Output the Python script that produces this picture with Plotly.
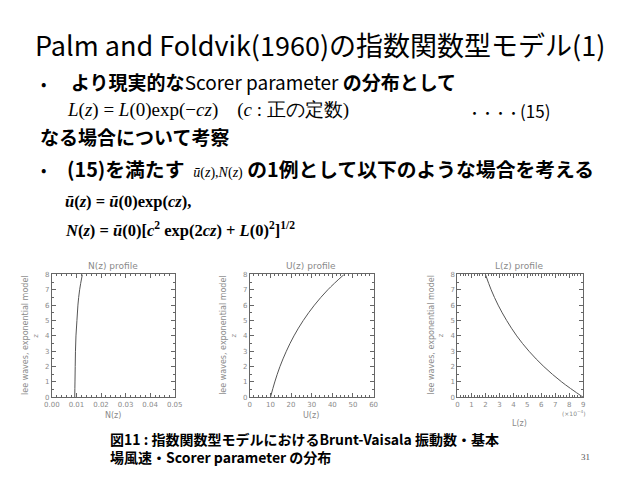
import plotly.graph_objects as go

# ---- data ----
z_levels = [0, 1, 2, 3, 4, 5, 6, 7, 8]
n_values = [0.0093, 0.0094, 0.0095, 0.0096, 0.0098, 0.0102, 0.0106, 0.0113, 0.0124]
u_values = [10.0, 12.1, 14.6, 17.7, 21.4, 25.9, 31.3, 37.8, 45.7]
l_values = [9.0, 7.46, 6.18, 5.12, 4.24, 3.52, 2.91, 2.41, 2.0]   # x 1e-4

plot_titles = ["N(z) profile", "U(z) profile", "L(z) profile"]
x_titles = ["N(z)", "U(z)", "L(z)"]
y_title = "lee waves, exponential model"

JP = "Noto Sans CJK JP"
SERIF = "Liberation Serif"
AX_COL = "#666666"
TICK_COL = "#8a8a8a"

fig = go.Figure()
series = [n_values, u_values, l_values]
for i, xs in enumerate(series):
    fig.add_trace(go.Scatter(
        x=xs, y=z_levels, mode="lines", line=dict(color="#555555", width=1, shape="spline"),
        xaxis="x" if i == 0 else f"x{i+1}", yaxis="y" if i == 0 else f"y{i+1}",
        showlegend=False, hoverinfo="skip"))

doms_x = [[45/640, 171/640], [248/640, 375/640], [461/640, 590/640]]
dom_y = [1-400/480, 1-275/480]
x_ranges = [[0, 0.05], [0, 60], [0, 9]]
x_dticks = [0.01, 10, 1]
x_minor = [0.002, 2, 0.2]
x_fmt = [".2f", "d", "d"]

layout = dict(
    width=640, height=480, margin=dict(l=0, r=0, t=0, b=0),
    paper_bgcolor="white", plot_bgcolor="white",
    font=dict(family=JP, color="black"),
)
for i in range(3):
    sx = "" if i == 0 else str(i+1)
    layout[f"xaxis{sx}"] = dict(
        domain=doms_x[i], range=x_ranges[i], dtick=x_dticks[i], tick0=0,
        tickformat=x_fmt[i], anchor=f"y{sx}",
        showline=True, linecolor=AX_COL, linewidth=1, mirror="ticks",
        ticks="inside", ticklen=4, tickcolor=AX_COL, showgrid=False, zeroline=False,
        minor=dict(ticks="inside", ticklen=2, dtick=x_minor[i], tickcolor=AX_COL, showgrid=False),
        tickfont=dict(size=7, color=TICK_COL, family="DejaVu Sans"), fixedrange=True)
    layout[f"yaxis{sx}"] = dict(
        domain=dom_y, range=[0, 8], dtick=1, anchor=f"x{sx}",
        showline=True, linecolor=AX_COL, linewidth=1, mirror="ticks",
        ticks="inside", ticklen=4, tickcolor=AX_COL, showgrid=False, zeroline=False,
        minor=dict(ticks="inside", ticklen=2, dtick=0.5, tickcolor=AX_COL, showgrid=False),
        tickfont=dict(size=7, color=TICK_COL, family="DejaVu Sans"), fixedrange=True)
fig.update_layout(**layout)

ann = []
def txt(x, y, s, size, family=JP, color="black", xanchor="left", angle=0, align="left"):
    ann.append(dict(x=x/640, y=1-y/480, xref="paper", yref="paper", text=s, showarrow=False,
                    font=dict(size=size, family=family, color=color), align=align,
                    xanchor=xanchor, yanchor="middle", textangle=angle, borderpad=0))

# slide texts
txt(320, 41, "Palm and Foldvik(1960)の指数関数型モデル(1)", 27, xanchor="center")
txt(33, 80, "•", 16)
txt(64, 79, "<b>より現実的な</b>Scorer parameter <b>の分布として</b>", 19)
txt(59, 108, "<i>L</i>(<i>z</i>) = <i>L</i>(0)exp(−<i>cz</i>)    (<i>c</i> : 正の定数)", 19, family=SERIF)
txt(471, 108, "<span style='font-size:13px'>・・・・</span>(15)", 17)
txt(32, 135, "<b>なる場合について考察</b>", 19)
txt(33, 168, "•", 16)
txt(59, 167, "<b>(15)を満たす</b>  <span style='font-family:Liberation Serif;font-size:14px'><i>ū</i>(<i>z</i>),<i>N</i>(<i>z</i>)</span> <b>の1例として以下のような場合を考える</b>", 19.8)
txt(57, 201, "<b><i>ū</i>(<i>z</i>) = <i>ū</i>(0)exp(<i>cz</i>),</b>", 16.5, family=SERIF)
txt(57, 229, "<b><i>N</i>(<i>z</i>) = <i>ū</i>(0)[<i>c</i><sup>2</sup> exp(2<i>cz</i>) + <i>L</i>(0)<sup>2</sup>]<sup>1/2</sup></b>", 16.5, family=SERIF)

# subplot decorations
centers = [108, 311, 525]
for i in range(3):
    cx = centers[i]
    txt(cx, 266, plot_titles[i], 9, family="DejaVu Sans", color=TICK_COL, xanchor="center")
    left = doms_x[i][0]*640
    txt(left - 27, 337, y_title, 8, family="DejaVu Sans", color=TICK_COL, xanchor="center", angle=-90)
    txt(left - 16, 337, "z", 7, family="DejaVu Sans", color=TICK_COL, xanchor="center", angle=-90)
xt_y = [418, 418, 427]
for i in range(3):
    txt(centers[i], xt_y[i], x_titles[i], 8, family="DejaVu Sans", color=TICK_COL, xanchor="center")
txt(580, 416, "(×10<sup>−4</sup>)", 6, family="DejaVu Sans", color=TICK_COL, xanchor="center")

# caption and page number
txt(104, 452, "<b>図11 : 指数関数型モデルにおけるBrunt-Vaisala 振動数・基本<br>場風速・Scorer parameter の分布</b>", 14)
txt(592, 461, "31", 9, family=SERIF, color="#555555", xanchor="center")

fig.update_layout(annotations=ann)
fig.write_html("out.html", config={"displayModeBar": False},
               post_script="document.body.style.margin='0';")
